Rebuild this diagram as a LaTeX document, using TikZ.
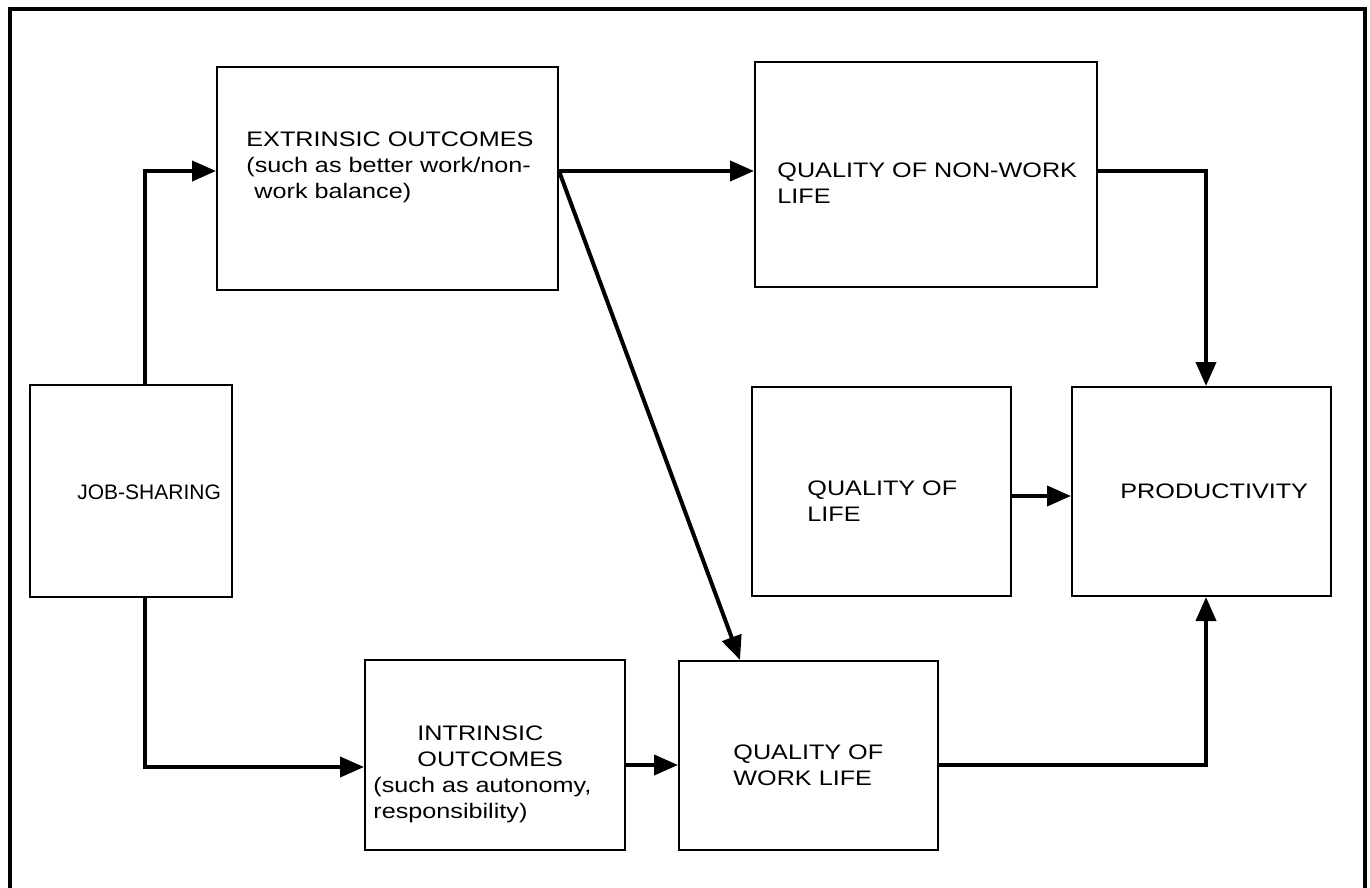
\documentclass[tikz,border=0pt]{standalone}
\usepackage{fontspec}
\setmainfont[FakeStretch=1.2]{Liberation Sans}
\newfontfamily\narrowsans{Liberation Sans}
\usepackage{tikz}
\usetikzlibrary{arrows.meta,positioning}
\tikzset{
  box/.style={draw, line width=1pt, fill=white, inner sep=0pt},
  lbl/.style={inner sep=0pt, align=left, font=\fontsize{10.5}{13}\selectfont},
  arr/.style={line width=2pt, -{Triangle[length=12pt,width=10pt]}}
}

\begin{document}
\begin{tikzpicture}[x=0.5pt, y=-0.5pt]
  \useasboundingbox (0,0) rectangle (1370,888);
  % outer frame (open at the bottom)
  \draw[line width=1.6pt] (10,888) -- (10,9) -- (1365,9) -- (1365,888);

  % boxes
  \node[box, minimum width=101pt, minimum height=106pt] (js) at (131,491) {};
  \node[box, minimum width=170.5pt, minimum height=111.5pt] (ext) at (387.5,178.5) {};
  \node[box, minimum width=171pt, minimum height=112.5pt] (nw) at (926,174.5) {};
  \node[box, minimum width=129.5pt, minimum height=104.5pt] (qol) at (881.5,491.5) {};
  \node[box, minimum width=129.5pt, minimum height=104.5pt] (prod) at (1201.5,491.5) {};
  \node[box, minimum width=130pt, minimum height=95pt] (intr) at (495,755) {};
  \node[box, minimum width=129.5pt, minimum height=94.5pt] (qwl) at (808.5,755.5) {};

  % texts
  \node[lbl, anchor=base west, font=\narrowsans\fontsize{10.5}{13}\selectfont] (js-t) at (77,499) {JOB-SHARING};
  \node[lbl, anchor=north west] (ext-t) at (246,131)
    {EXTRINSIC OUTCOMES\\(such as better work/non-\\\hspace{4pt}work balance)};
  \node[lbl, anchor=north west] (nw-t) at (777,162) {QUALITY OF NON-WORK\\LIFE};
  \node[lbl, anchor=north west] (qol-t) at (807,480) {QUALITY OF\\LIFE};
  \node[lbl, anchor=base west] (prod-t) at (1120,498) {PRODUCTIVITY};
  \node[lbl, anchor=north west] (intr-t) at (373,725)
    {\hspace{22pt}INTRINSIC\\\hspace{22pt}OUTCOMES\\(such as autonomy,\\responsibility)};
  \node[lbl, anchor=north west] (qwl-t) at (733,744) {QUALITY OF\\WORK LIFE};

  % rows and columns of the connectors
  \coordinate (r1) at (0,171);
  \coordinate (r2) at (0,496);
  \coordinate (r3) at (0,767);
  \coordinate (r4) at (0,765);
  \coordinate (c1) at (145,0);
  \coordinate (c2) at (740,0);
  \coordinate (c3) at (1206,0);

  % connectors
  \draw[arr] (js.north -| c1) |- (ext.west |- r1);
  \draw[arr] (js.south -| c1) |- (intr.west |- r3);
  \draw[arr] (ext.east |- r1) -- (nw.west |- r1);
  \draw[arr] (ext.east |- r1) -- (qwl.north -| c2);
  \draw[arr] (nw.east |- r1) -| (prod.north -| c3);
  \draw[arr] (qol.east |- r2) -- (prod.west |- r2);
  \draw[arr] (intr.east |- r4) -- (qwl.west |- r4);
  \draw[arr] (qwl.east |- r4) -| (prod.south -| c3);
\end{tikzpicture}
\end{document}
